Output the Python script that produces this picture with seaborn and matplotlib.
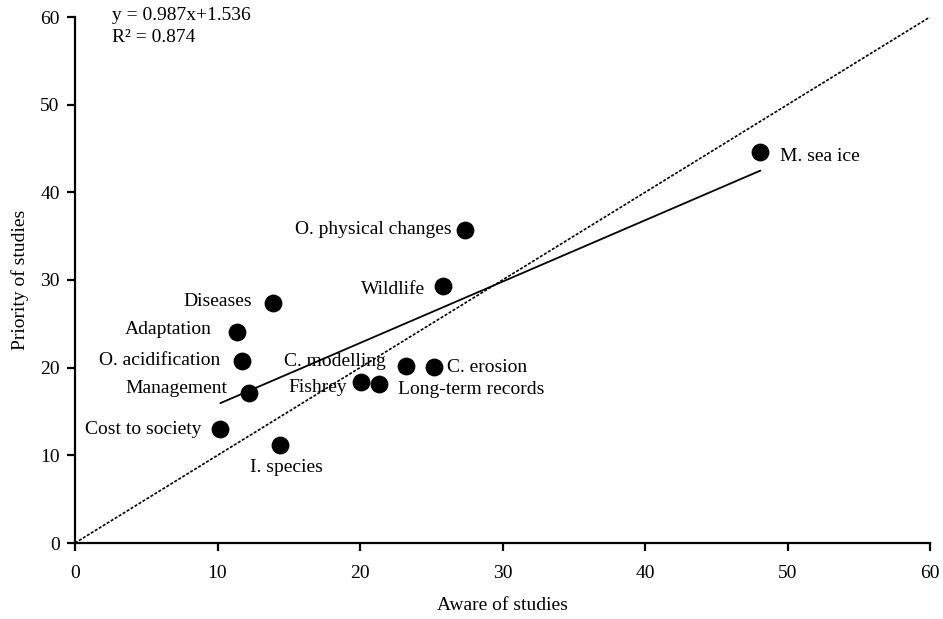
import matplotlib
matplotlib.use("Agg")
import matplotlib.pyplot as plt
import seaborn as sns
import pandas as pd

# ---- data ----
topics = ["M. sea ice", "O. physical changes", "Wildlife", "Diseases", "Adaptation",
          "O. acidification", "C. modelling", "C. erosion", "Fishrey",
          "Long-term records", "Management", "Cost to society", "I. species"]
aware = [48.1, 27.4, 25.8, 13.9, 11.4, 11.7, 23.2, 25.2, 20.1, 21.3, 12.2, 10.2, 14.4]
priority = [44.6, 35.7, 29.3, 27.4, 24.1, 20.8, 20.2, 20.1, 18.4, 18.1, 17.1, 13.0, 11.2]
x_ticks = [0, 10, 20, 30, 40, 50, 60]
y_ticks = [0, 10, 20, 30, 40, 50, 60]
equation_text = "y = 0.987x+1.536"
r2_text = "R\u00b2 = 0.874"
x_label = "Aware of studies"
y_label = "Priority of studies"

# label placement (pixel offsets from the point, alignment)
label_pos = {
    "M. sea ice": (20, -4, "left"),
    "O. physical changes": (-14, 1, "right"),
    "Wildlife": (-18, -3, "right"),
    "Diseases": (-21, 1, "right"),
    "Adaptation": (-26, 2, "right"),
    "O. acidification": (-21, 0, "right"),
    "C. modelling": (-20, 4, "right"),
    "C. erosion": (13, -1, "left"),
    "Fishrey": (-14, -6, "right"),
    "Long-term records": (19, -5, "left"),
    "Management": (-21, 5, "right"),
    "Cost to society": (-19, 0, "right"),
    "I. species": (6, -23, "center"),
}

df = pd.DataFrame({"topic": topics, "aware": aware, "priority": priority})

sns.set_theme(style="ticks")
plt.rcParams["font.family"] = ["Liberation Serif", "DejaVu Serif"]
plt.rcParams["text.color"] = "black"
plt.rcParams["axes.labelcolor"] = "black"
FS = 14

fig = plt.figure(figsize=(9.43, 6.19), dpi=100)
ax = fig.add_axes([75 / 943, 1 - 543 / 619, 855 / 943, 526 / 619])

# 1:1 reference line
ax.plot([x_ticks[0], x_ticks[-1]], [y_ticks[0], y_ticks[-1]], color="black",
        lw=1.2, ls=(0, (1.8, 1.0)), zorder=1)

# regression line over data range
sns.regplot(data=df, x="aware", y="priority", ax=ax, scatter=False, ci=None,
            truncate=True, line_kws=dict(color="black", lw=1.3, zorder=2))

sns.scatterplot(data=df, x="aware", y="priority", ax=ax, color="black",
                s=165, marker="o", edgecolor="black", linewidth=0, zorder=3,
                legend=False)

for t, xv, yv in zip(topics, aware, priority):
    dx, dy, ha = label_pos[t]
    ax.annotate(t, (xv, yv), xytext=(dx, dy), textcoords="offset pixels",
                ha=ha, va="center", fontsize=FS, color="black")

fig.text(112 / 943, 1 - 16 / 619, equation_text, ha="left", va="center",
         fontsize=FS)
fig.text(112 / 943, 1 - 38 / 619, r2_text, ha="left", va="center",
         fontsize=FS)

ax.set_xlim(0, 60)
ax.set_ylim(0, 60)
ax.set_xticks(x_ticks)
ax.set_yticks(y_ticks)
ax.set_xlabel(x_label, fontsize=FS, labelpad=11)
ax.set_ylabel(y_label, fontsize=FS, labelpad=8)
sns.despine(ax=ax)
for s in ["left", "bottom"]:
    ax.spines[s].set_linewidth(1.6)
    ax.spines[s].set_color("black")
ax.tick_params(direction="out", length=6, width=1.6, colors="black",
               labelsize=FS)
ax.tick_params(axis="x", pad=10)
ax.tick_params(axis="y", pad=5)

fig.savefig("out.png", dpi=100)
